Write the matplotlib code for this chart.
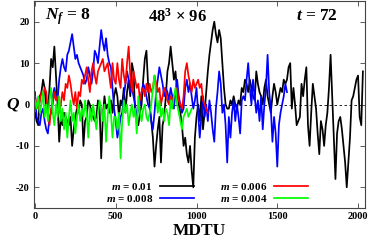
import numpy as np
import matplotlib
matplotlib.use("Agg")
import matplotlib.pyplot as plt

# topological charge Q vs MDTU, one series per quark mass (sampled every 10 MDTU)
step = 10
q_m010 = [-2, -4, -5, 2, 3, 6, 4, -1, -2, 4,
          11, 9, 14, 7, 0, -9, -3, -5, -2, -3,
          -4, -5, -3, -10, -6, -3, -1, -2, 1, 0,
          -10, -4, -3, 1, 0, -2, -3, -4, -3, 1,
          -1, -13, -3, 2, -1, 0, -2, 1, -2, 2,
          4, 2, -3, 1, 0, 4, -2, 3, 6, 2,
          10, 8, -2, -4, -5, -2, 0, 6, 11, 13,
          5, 0, -4, -8, -15, -10, -6, -3, -14, -5,
          -3, 2, 8, 10, 14, 10, 6, 8, 3, 0,
          -2, -5, -10, -8, -12, -14, -10, -16, -20, -8,
          -3, 0, -4, 2, -6, -2, 3, 8, 12, 15,
          18, 20, 17, 15, 18, 16, 10, 4, 0, -1,
          -1, 1, 0, 2, 0, -1, 1, 0, 4, 3,
          6, 5, 3, 6, 4, 2, 1, 8, 5, 3,
          2, 0, 4, 6, 2, 0, -2, 2, 5, 3,
          0, 2, 4, 3, 6, 5, 6, 9, 10, -1,
          4, 0, -5, -4, -3, 5, 2, 6, 9, -5,
          -10, -2, 5, 2, -1, -7, -12, -4, -6, -10,
          -5, -2, 4, 12, 2, -8, -18, -7, -4, -3,
          -6, -10, -14, -20, -14, -8, 1, 2, 4, 6,
          7, -3, -5, 8]
q_m008 = [3, -3, -4, -5, -2, -1, -4, -6, -7, -3,
          -2, 2, 4, 2, 1, 6, 9, 11, 9, 8,
          12, 13, 15, 17, 14, 11, 12, 10, 9, 8,
          7, 5, 6, 9, 7, 5, 8, 13, 12, 10,
          14, 18, 15, 13, 16, 12, 10, 9, 4, -1,
          -4, -8, -6, -3, -2, 2, 5, 8, 6, 3,
          4, 2, 0, -3, -1, 0, 3, 5, 4, 2,
          0, -1, -4, -6, -2, 3, 6, 9, 7, 5,
          2, 4, 3, 1, 4, 2, -1, 3, 6, 2,
          0, -2, -1, 4, 6, 3, 5, 2, -1, 1,
          4, -2, -8, -3, 2, -3, 0, -4, 1, -2,
          -6, -9, -1, 3, 8, 5, -2, 0, -5, -14,
          -3, -8, -2, 1, -4, 0, -3, -7, 1, 2,
          1, 6, 10, 4, 0, 6, 2, -2, 1, -4,
          2, -6, 0, 4, 12, 3, -1, -9, -3, -7,
          -15, -5, -2, 0, 2, 5, 3]
q_m006 = [2, 0, -1, 1, 3, 2, 4, 3, -2, -5,
          -1, 0, 3, 1, 2, -2, 0, 3, 1, 5,
          4, 7, 5, 2, 0, 3, -1, 3, 2, 6,
          5, 7, 9, 6, 3, 8, 10, 7, 5, 8,
          9, 10, 11, 8, 9, 10, 7, 4, 10, 6,
          5, 10, 6, 4, 11, 7, 5, 10, 14, 7,
          3, 8, 6, 4, 5, 1, 3, 4, 2, 5,
          3, 5, 3, 4, 7, 5, 3, 4, 0, 2,
          4, 3, 1, 0, 2, 1, 2, 3, 4, 1,
          0, -1, 2, 8, 10, 7, 5, 3, 6, 4,
          5, 6, 4, 5, 1, 0, -1, -2]
q_m004 = [1, -1, 2, -2, 0, 3, -3, 0, -4, 1,
          4, -2, -5, 0, -3, 2, -4, -1, -6, -2,
          -8, -3, 1, -4, -2, -7, -3, 0, -4, -1,
          -3, 1, -2, -8, -1, -4, 0, -3, -6, -2,
          1, -1, -4, 0, -9, -3, 2, -2, -8, -3,
          -3, -6, -2, -13, -4, 1, -2, 0, -5, -2,
          0, -3, -1, -7, 2, -2, -4, -1, 0, -3,
          -4, -2, 0, 4, 7, 2, -2, 1, -3, -1,
          -4, -1, -2, -5, 1, -1, 2, 4, 0, -2,
          -4, -6, -3, -2, -1, -3, -2, -1]

series = [
    (q_m010, "black", "$m$ = 0.01"),
    (q_m008, "#0000ff", "$m$ = 0.008"),
    (q_m006, "#ff0000", "$m$ = 0.006"),
    (q_m004, "#00ff00", "$m$ = 0.004"),
]

plt.rcParams["font.family"] = "Liberation Serif"
plt.rcParams["font.weight"] = "bold"
plt.rcParams["mathtext.fontset"] = "custom"
plt.rcParams["mathtext.rm"] = "Liberation Serif:bold"
plt.rcParams["mathtext.it"] = "Liberation Serif:italic:bold"
plt.rcParams["mathtext.bf"] = "Liberation Serif:bold"
plt.rcParams["axes.unicode_minus"] = False

fig = plt.figure(figsize=(3.74, 2.41), dpi=100)
ax = fig.add_axes([34 / 374, 33 / 241, 331 / 374, 207 / 241])

ax.axhline(0, color="black", lw=0.6, ls=(0, (3, 3)), zorder=1)
for q, col, lab in series:
    t = np.arange(len(q)) * step
    ax.plot(t, q, color=col, lw=1.25, label=lab, zorder=2)

ax.set_xlim(-6, 2043)
ax.set_ylim(-25, 25)
ax.set_xticks([0, 500, 1000, 1500, 2000])
ax.set_yticks([-20, -10, 0, 10, 20])
ax.tick_params(direction="in", length=3.5, width=0.6, labelsize=7.5,
               top=True, right=True, pad=3, color="#444444")
for sp in ax.spines.values():
    sp.set_color("#444444")
    sp.set_linewidth(0.8)

ax.set_xlabel("MDTU", fontsize=12.5, fontweight="bold", labelpad=1.5)
ax.set_ylabel("$Q$", fontsize=12.5, rotation=0, labelpad=2, va="center")

ax.text(62, 21.3, "$N_f$ = 8", fontsize=12.5, va="center", ha="left")
ax.text(880, 21.3, "48$^3$ × 96", fontsize=12, va="center", ha="center")
ax.text(1876, 21.3, "$t$ = 72", fontsize=12.5, va="center", ha="right")

ax.legend(ncol=2, markerfirst=False, frameon=False, fontsize=8,
          loc="lower right", bbox_to_anchor=(0.828, 0.02),
          borderpad=0, borderaxespad=0, handlelength=3.1,
          handletextpad=0.6, columnspacing=2.3, labelspacing=0.1)

fig.savefig("out.png", dpi=100)
